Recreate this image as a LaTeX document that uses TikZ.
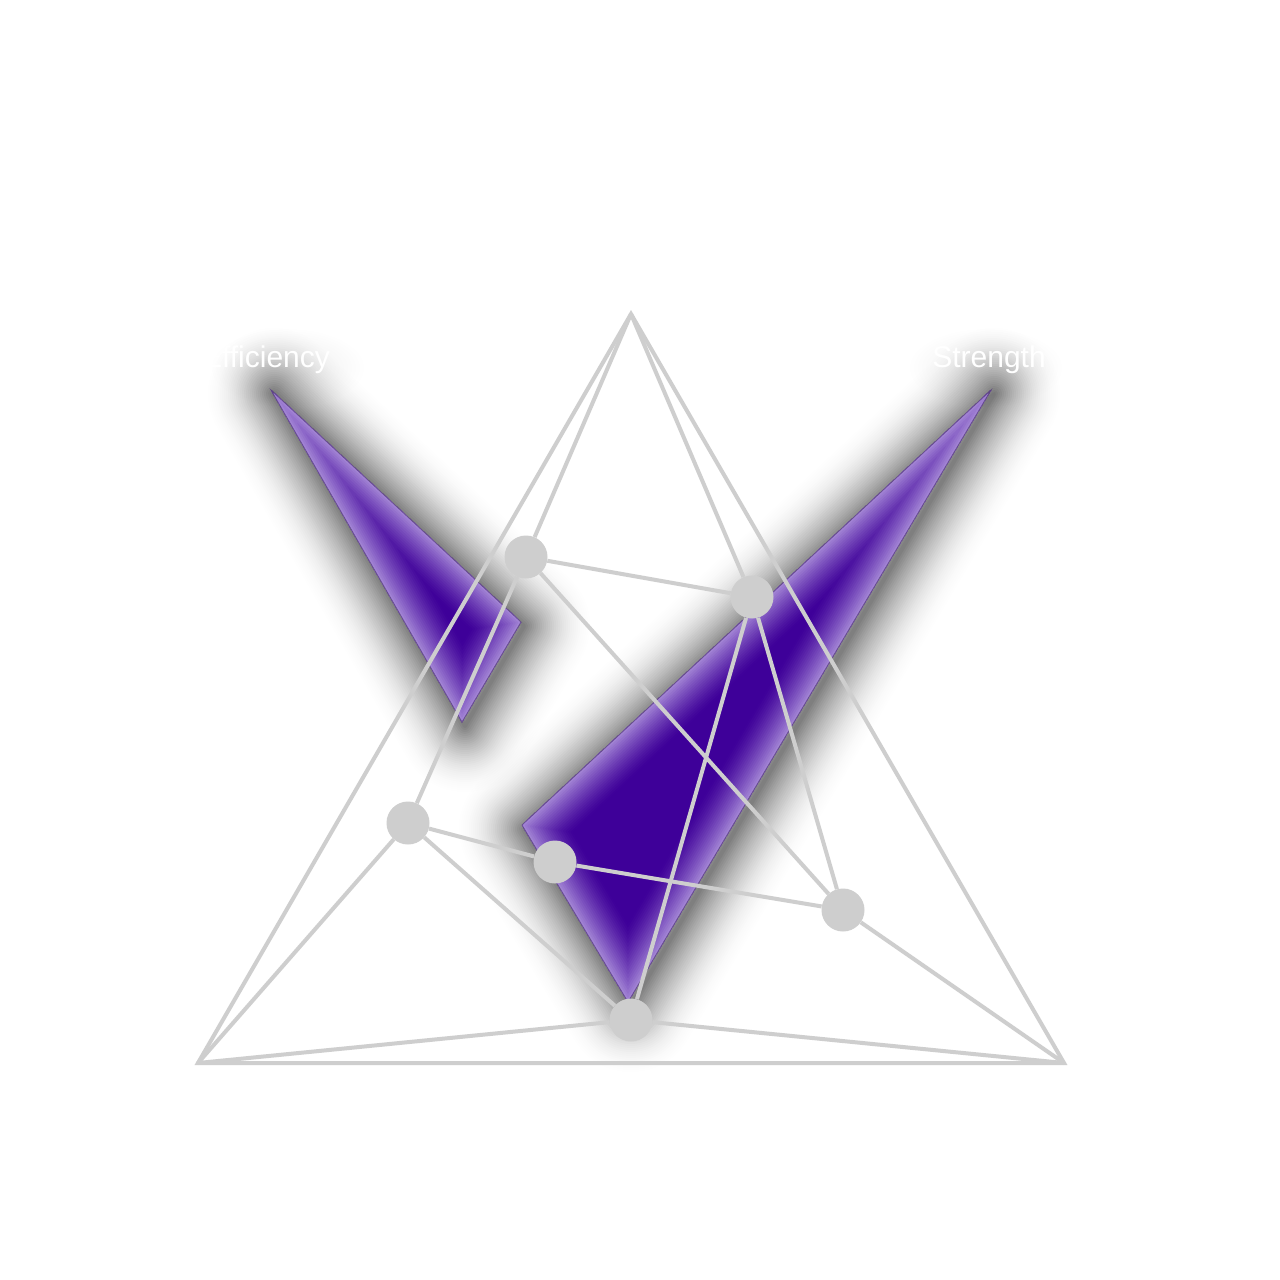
\documentclass[tikz,border=0pt]{standalone}
\usepackage{fontspec}
\setmainfont{Liberation Sans}
\definecolor{lnc}{RGB}{206,206,206}
\definecolor{core}{RGB}{62,0,153}
\definecolor{edgep}{RGB}{164,134,214}
\newcommand\shadowtri[3]{%
  \begin{scope}[shift={(3,4)}]
  \foreach \k in {36,...,1}{%
    \pgfmathsetmacro\oa{0.48*(max(0,1-(\k-0.5)/36))^2}%
    \pgfmathsetmacro\ob{0.48*(max(0,1-(\k+0.5)/36))^2}%
    \pgfmathsetmacro\al{1-(1-\oa)/(1-\ob)}%
    \pgfmathsetmacro\w{\k*4}%
    \draw[line width=\w pt, line join=round, draw=black, draw opacity=\al] (#1) -- (#2) -- (#3) -- cycle;
  }
  \end{scope}}
\newcommand\glowtri[3]{%
  \begin{scope}
  \clip (#1) -- (#2) -- (#3) -- cycle;
  \fill[core] (#1) -- (#2) -- (#3) -- cycle;
  \foreach \k in {20,...,1}{%
    \pgfmathsetmacro\p{100*((1-(\k-0.5)/20)^1.3)}%
    \pgfmathsetmacro\w{\k*4}%
    \draw[line width=\w pt, line join=round, color=edgep!\p!core] (#1) -- (#2) -- (#3) -- cycle;
  }
  \end{scope}
  \draw[line width=0.7pt, color=core!40!gray] (#1) -- (#2) -- (#3) -- cycle;}
\tikzset{
  ln/.style={draw=lnc, line width=4pt},
  dot/.style={circle, fill=lnc, minimum size=43pt, inner sep=0pt},
  lbl/.style={text=white, font=\fontsize{30}{36}\selectfont, anchor=base, inner sep=0pt}
}
\begin{document}
\begin{tikzpicture}[x=1pt,y=-1pt]
\useasboundingbox (0,0) rectangle (1280,1280);
\fill[white] (0,0) rectangle (1280,1280);
% shadows
\shadowtri{271,390}{521,622}{462,722}
\shadowtri{991,390}{522,825}{628,1002}
% purple shapes
\glowtri{271,390}{521,622}{462,722}
\glowtri{991,390}{522,825}{628,1002}
% text glows
\foreach \i in {1,...,14}{
  \fill[black, opacity=0.0025] (288,368) ellipse [x radius=20+4*\i, y radius=8+2.2*\i];
  \fill[black, opacity=0.0025] (986,368) ellipse [x radius=20+4*\i, y radius=8+2.2*\i];
}
\node[lbl] (effl) at (266,367) {Efficiency};
\node[lbl] (strl) at (989,367) {Strength};
% graph
\coordinate (T) at (631,314);
\coordinate (BL) at (198,1063);
\coordinate (BR) at (1064,1063);
\node[dot] (A) at (526,557) {};
\node[dot] (B) at (752,597) {};
\node[dot] (D) at (408,823) {};
\node[dot] (C) at (555,862) {};
\node[dot] (E) at (843,910) {};
\node[dot] (F) at (631,1020) {};
\draw[ln, line join=miter] (T) -- (BL) -- (BR) -- cycle;
\draw[ln] (T) -- (A);
\draw[ln] (T) -- (B);
\draw[ln] (A) -- (B);
\draw[ln] (A) -- (D);
\draw[ln] (A) -- (E);
\draw[ln] (B) -- (F);
\draw[ln] (B) -- (E);
\draw[ln] (D) -- (C);
\draw[ln] (C) -- (E);
\draw[ln] (D) -- (F);
\draw[ln] (D) -- (BL);
\draw[ln] (F) -- (BL);
\draw[ln] (F) -- (BR);
\draw[ln] (E) -- (BR);
\end{tikzpicture}
\end{document}
